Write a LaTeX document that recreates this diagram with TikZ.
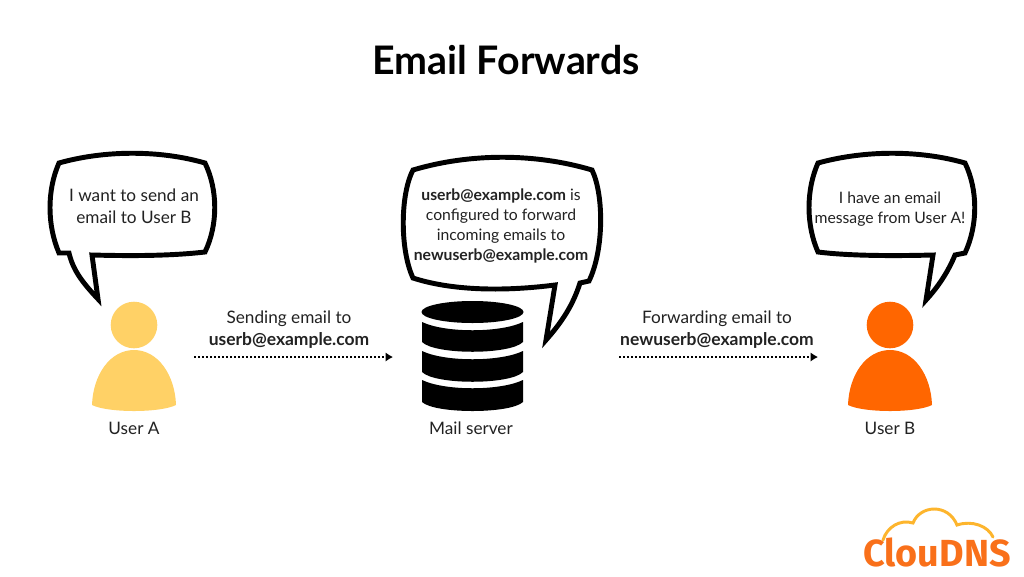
\documentclass[tikz,border=0pt]{standalone}
\usepackage{fontspec}
\setmainfont{Lato}
\newfontfamily\logofont{Fira Sans}
\usetikzlibrary{arrows.meta}
\definecolor{txt}{HTML}{222222}
\definecolor{usera}{HTML}{FFD166}
\definecolor{userb}{HTML}{FF6600}
\definecolor{logoA}{HTML}{F9701A}
\definecolor{logoB}{HTML}{FDB52D}
\newcommand{\boldlabel}[1]{{\fontsize{13.1pt}{16.5pt}\selectfont\bfseries #1}}
\tikzset{
  x=0.75pt,y=-0.75pt,
  bubble/.style={draw=black,line width=3.7pt,line join=miter,fill=white},
  label/.style={text=txt,font=\fontsize{12.9pt}{16.5pt}\selectfont,align=center,inner sep=0pt},
  midlabel/.style={text=txt,font=\fontsize{11.8pt}{15pt}\selectfont,align=center,inner sep=0pt},
  flow/.style={draw=black,line width=1.6pt,dash pattern=on 1.5pt off 1.5pt,-{Latex[length=5.5pt,width=7pt]}},
  blackshape/.style={fill=black,draw=none}
}
\begin{document}
\begin{tikzpicture}
\useasboundingbox (0,0) rectangle (1024,576);
\fill[white] (0,0) rectangle (1024,576);
\node[inner sep=0pt,font=\bfseries\fontsize{29.5pt}{30pt}\selectfont,text=black] (title) at (506,60) {Email Forwards};
% User A
\fill[usera] (134,325) circle[radius=23.3];
\fill[usera] (92,405) .. controls (93,375) and (110,350) .. (134,350) .. controls (158,350) and (175,375) .. (176,405) .. controls (160,413) and (108,413) .. (92,405) -- cycle;
\node[label] (ua) at (134,428) {User A};
\draw[bubble] (59,163) .. controls (105,150) and (160,150) .. (205,163) .. controls (218,190) and (218,225) .. (205,252) .. controls (170,256) and (130,256) .. (92,255) -- (98,299) .. controls (82,282) and (73,270) .. (69,253) -- (59,253) .. controls (47,225) and (47,190) .. (59,163) -- cycle;
\node[label] (ta) at (134,206) {I want to send an\\email to User B};
% Server
\fill[blackshape] (472.5,312) ellipse[x radius=51,y radius=11];
\fill[blackshape] (422,322) .. controls (445,333) and (500,333) .. (523,322) -- (523,342) .. controls (510,355) and (435,355) .. (422,342) -- cycle;
\fill[blackshape] (422,351) .. controls (445,362) and (500,362) .. (523,351) -- (523,372) .. controls (510,385) and (435,385) .. (422,372) -- cycle;
\fill[blackshape] (422,380) .. controls (445,391) and (500,391) .. (523,380) -- (523,402) .. controls (510,414) and (435,414) .. (422,402) -- cycle;
\node[label] (ms) at (471,428) {Mail server};
\draw[bubble] (413,170) .. controls (470,153) and (535,153) .. (592,170) .. controls (604,195) and (604,250) .. (589,281) -- (580,283) .. controls (573,305) and (562,322) .. (546,340) -- (555,285) .. controls (500,292) and (450,290) .. (413,278) .. controls (400,250) and (400,195) .. (413,170) -- cycle;
\node[midlabel] (tm) at (501,226) {\textbf{userb@example.com} is\\configured to forward\\incoming emails to\\\textbf{newuserb@example.com}};
% User B
\fill[userb] (890,325) circle[radius=23.3];
\fill[userb] (848,405) .. controls (849,375) and (866,350) .. (890,350) .. controls (914,350) and (931,375) .. (932,405) .. controls (916,413) and (864,413) .. (848,405) -- cycle;
\node[label] (ub) at (890,428) {User B};
\draw[bubble] (818,163) .. controls (865,150) and (920,150) .. (965,163) .. controls (978,190) and (978,225) .. (965,253) -- (955,255) .. controls (948,272) and (938,287) .. (926,300) -- (933,255) .. controls (895,256) and (850,256) .. (818,252) .. controls (806,225) and (806,190) .. (818,163) -- cycle;
\node[midlabel] (tb) at (890,209) {I have an email\\message from User A!};
% Flows
\coordinate (f1s) at (194,357); \coordinate (f1e) at (393,357);
\coordinate (f2s) at (619,357); \coordinate (f2e) at (818,357);
\draw[flow] (f1s) -- (f1e);
\draw[flow] (f2s) -- (f2e);
\node[label] (l1) at (289,329.5) {Sending email to\\\boldlabel{userb@example.com}};
\node[label] (l2) at (717,329.5) {Forwarding email to\\\boldlabel{newuserb@example.com}};
% Logo
\node[inner sep=0pt,font=\logofont\bfseries\fontsize{28.3pt}{28pt}\selectfont,text=logoA] (logo) at (937,552) {ClouDNS};
\draw[logoB,line width=2.2pt,line cap=round] (883,540) .. controls (887,527) and (900,519) .. (913,523) .. controls (920,505) and (948,503) .. (957,525) .. controls (972,520) and (988,526) .. (993,537);
\end{tikzpicture}
\end{document}
